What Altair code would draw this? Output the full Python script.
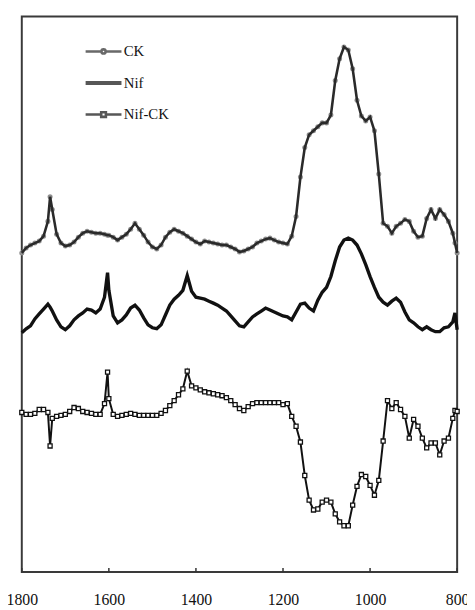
import altair as alt
import pandas as pd

# wavenumber (cm-1) read along the x axis
wavenumber = [1800, 1790, 1780, 1770, 1760, 1750, 1740, 1735, 1730, 1720, 1710, 1700,
              1690, 1680, 1670, 1660, 1650, 1640, 1630, 1620, 1610, 1603, 1600, 1590,
              1580, 1570, 1560, 1550, 1540, 1530, 1520, 1510, 1500, 1490, 1480, 1470,
              1460, 1450, 1440, 1430, 1420, 1410, 1400, 1390, 1380, 1370, 1360, 1350,
              1340, 1330, 1320, 1310, 1300, 1290, 1280, 1270, 1260, 1250, 1240, 1230,
              1220, 1210, 1200, 1190, 1180, 1170, 1160, 1150, 1140, 1130, 1120, 1110,
              1100, 1090, 1080, 1070, 1060, 1050, 1040, 1030, 1020, 1010, 1000, 990,
              980, 970, 960, 950, 940, 930, 920, 910, 900, 890, 880, 870,
              860, 850, 840, 830, 820, 810, 805, 800]

# offset intensities (a.u.)
ck = [324, 329, 332, 334, 336, 341, 356, 381, 368, 343, 334, 331,
      332, 335, 340, 344, 346, 345, 344, 344, 343, 342, 342, 340,
      337, 340, 343, 348, 354, 348, 342, 335, 330, 328, 332, 340,
      345, 348, 346, 344, 341, 338, 335, 333, 336, 335, 334, 333,
      332, 332, 330, 328, 325, 326, 328, 330, 334, 336, 338, 339,
      337, 335, 334, 333, 341, 361, 401, 431, 444, 448, 452, 456,
      456, 464, 499, 521, 533, 530, 511, 479, 463, 458, 462, 448,
      404, 354, 351, 344, 351, 354, 358, 356, 346, 340, 341, 359,
      368, 359, 368, 363, 356, 344, 334, 324]

nif = [243, 247, 250, 257, 262, 267, 272, 269, 265, 256, 249, 246,
       250, 256, 260, 263, 267, 266, 263, 267, 279, 304, 286, 260,
       253, 256, 261, 268, 271, 266, 258, 251, 248, 247, 251, 261,
       271, 277, 281, 286, 301, 285, 279, 278, 277, 275, 273, 271,
       268, 265, 260, 255, 250, 249, 254, 259, 262, 265, 268, 266,
       264, 262, 260, 259, 256, 264, 272, 273, 268, 265, 276, 284,
       289, 300, 316, 330, 337, 339, 337, 332, 323, 312, 300, 289,
       279, 274, 271, 275, 278, 274, 264, 256, 253, 249, 246, 249,
       246, 244, 244, 248, 249, 254, 263, 246]

nif_ck = [162, 160, 160, 161, 165, 165, 162, 128, 156, 158, 159, 160,
          163, 167, 166, 163, 162, 161, 160, 160, 171, 203, 176, 160,
          158, 159, 160, 161, 160, 159, 159, 159, 159, 159, 161, 164,
          169, 174, 180, 186, 204, 189, 187, 185, 183, 182, 181, 180,
          179, 177, 174, 170, 166, 164, 168, 171, 172, 172, 172, 172,
          172, 172, 170, 171, 158, 148, 132, 98, 73, 63, 64, 71,
          73, 71, 59, 51, 47, 47, 68, 87, 99, 97, 88, 78,
          93, 133, 174, 166, 172, 165, 158, 136, 155, 148, 136, 126,
          131, 131, 119, 133, 136, 156, 164, 163]

series_names = ["CK", "Nif", "Nif-CK"]
x_ticks = [1800, 1600, 1400, 1200, 1000, 800]

rows = []
for name, vals in zip(series_names, [ck, nif, nif_ck]):
    for w, v in zip(wavenumber, vals):
        rows.append({"wn": w, "series": name, "value": v})
df = pd.DataFrame(rows)
tick_df = pd.DataFrame({"wn": x_ticks})

W, H = 442, 564
xs = alt.Scale(domain=[1800, 800], nice=False, zero=False)
ys = alt.Scale(domain=[0, 564], nice=False, zero=False)
xaxis = alt.Axis(values=x_ticks, format="d", title=None, ticks=False, tickSize=0,
                 domain=False, grid=False, labelFlush=False,
                 labelFont="Liberation Serif", labelFontSize=16,
                 labelColor="#111111", labelPadding=20)
X = alt.X("wn:Q", scale=xs, axis=xaxis)
Y = alt.Y("value:Q", scale=ys, axis=None)

base = alt.Chart(df)

ck_pts = base.transform_filter(alt.datum.series == "CK").mark_point(
    shape="circle", filled=True, size=26, color="#909090", opacity=1
).encode(x=X, y=Y)
ck_line = base.transform_filter(alt.datum.series == "CK").mark_line(
    color="#2a2a2a", strokeWidth=2.6
).encode(x=X, y=Y)
nif_line = base.transform_filter(alt.datum.series == "Nif").mark_line(
    color="#111111", strokeWidth=3.4
).encode(x=X, y=Y)
nc_line = base.transform_filter(alt.datum.series == "Nif-CK").mark_line(
    color="#111111", strokeWidth=2
).encode(x=X, y=Y)
nc_pts = base.transform_filter(alt.datum.series == "Nif-CK").mark_point(
    shape="square", filled=False, size=17, stroke="#111111", strokeWidth=1.3,
    fill="white", fillOpacity=1, opacity=1
).encode(x=X, y=Y)

ticks_in = alt.Chart(tick_df).mark_rule(color="#333333", strokeWidth=1.5).encode(
    x=X, y=alt.value(H - 4), y2=alt.value(H)
)

legend_paths = [
    "M-1.3,0H-0.15M0.15,0H1.3M0.15,0A0.15,0.15 0 1,1 -0.15,0A0.15,0.15 0 1,1 0.15,0",
    "M-1.3,-0.05H1.3M-1.3,0.05H1.3",
    "M-1.3,0H-0.17M0.17,0H1.3M-0.17,-0.17H0.17V0.17H-0.17Z",
]
lg = alt.Legend(title=None, orient="none", legendX=67.5, legendY=20,
                symbolSize=784, symbolStrokeWidth=2.6, padding=0, rowPadding=8,
                labelFont="Liberation Serif", labelFontSize=15, labelColor="#111111",
                labelOffset=5)
legend_layer = base.transform_filter("false").mark_point(filled=False).encode(
    color=alt.Color("series:N", scale=alt.Scale(domain=series_names,
                                                 range=["#2a2a2a", "#111111", "#111111"]),
                    legend=lg),
    shape=alt.Shape("series:N", scale=alt.Scale(domain=series_names, range=legend_paths),
                    legend=lg),
)

chart = alt.layer(ck_pts, ck_line, nif_line, nc_line, nc_pts, ticks_in, legend_layer).properties(
    width=W, height=H,
    autosize=alt.AutoSizeParams(type="none"),
    padding={"left": 14, "top": 4, "right": 10, "bottom": 40},
    background="white",
).configure_view(stroke="#3a3a3a", strokeWidth=2)

chart.save("out.html", embed_options={"renderer": "svg", "actions": False})
